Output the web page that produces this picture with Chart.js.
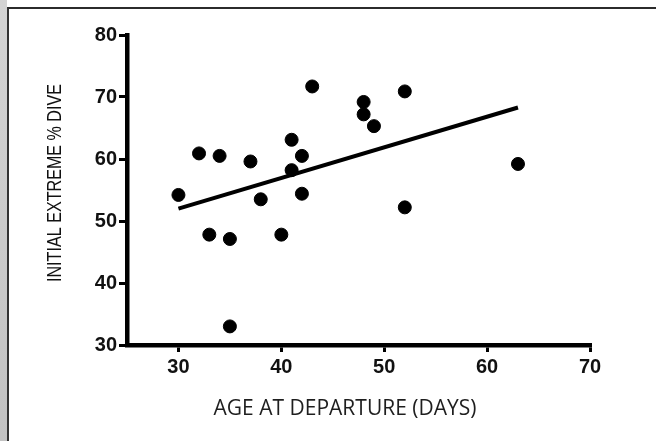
<!DOCTYPE html>
<html>
<head>
<meta charset="utf-8">
<script src="https://cdn.jsdelivr.net/npm/chart.js@4.4.1/dist/chart.umd.min.js"></script>
<style>
  html, body { margin: 0; padding: 0; background: #fff; }
  #wrap { position: relative; width: 656px; height: 441px; overflow: hidden; background: #fff; }
  #strip { position: absolute; left: 0; top: 0; width: 7px; height: 441px; background: linear-gradient(#d4d4d4, #c2c2c2); }
  #frame { position: absolute; left: 7px; top: 7px; right: -2px; height: 432px; border-left: 2px solid #333; border-top: 2px solid #2b2b2b; border-bottom: 1px solid #8a8a8a; }
  #c { position: absolute; left: 0; top: 0; }
</style>
</head>
<body>
<div id="wrap">
  <div id="strip"></div>
  <div id="frame"></div>
  <canvas id="c" width="656" height="441"></canvas>
</div>
<script>
// Observed points: age at departure (days) and initial extreme % dive
const ageDays   = [30, 32, 33, 34, 35, 35, 37, 38, 40, 41, 41, 42, 42, 43, 48, 48, 49, 52, 52, 63];
const extremeDive = [54.2, 60.9, 47.8, 60.5, 47.1, 33.0, 59.6, 53.5, 47.8, 63.1, 58.2, 60.5, 54.4, 71.7, 69.2, 67.2, 65.3, 70.9, 52.2, 59.2];
// Regression line end points
const fitAge  = [30, 63];
const fitDive = [52.0, 68.3];
// Tick labels
const xTicks = [30, 40, 50, 60, 70];
const yTicks = [30, 40, 50, 60, 70, 80];
const xTitle = 'AGE AT DEPARTURE (DAYS)';
const yTitle = 'INITIAL EXTREME % DIVE';

const points = ageDays.map((a, i) => ({ x: a, y: extremeDive[i] }));
const fit = fitAge.map((a, i) => ({ x: a, y: fitDive[i] }));

const titlePlugin = {
  id: 'axisTitles',
  afterDraw(chart) {
    const ctx = chart.ctx;
    ctx.save();
    ctx.fillStyle = '#1e1e1e';
    ctx.textAlign = 'center';
    ctx.textBaseline = 'middle';
    ctx.font = '21px "Open Sans", "Liberation Sans", sans-serif';
    ctx.fillText(xTitle, 345, 409);
    ctx.translate(55, 183);
    ctx.rotate(-Math.PI / 2);
    ctx.font = '20px "Liberation Sans Narrow", "Liberation Sans", Arial, sans-serif';
    ctx.fillStyle = '#111';
    ctx.fillText(yTitle, 0, 0, 198);
    ctx.restore();
  }
};

new Chart(document.getElementById('c'), {
  type: 'scatter',
  data: {
    datasets: [
      {
        type: 'line',
        data: fit,
        borderColor: '#000',
        borderWidth: 4,
        pointRadius: 0,
        fill: false,
        order: 1
      },
      {
        data: points,
        backgroundColor: '#000',
        borderColor: '#000',
        pointRadius: 6.5,
        pointHoverRadius: 6.5,
        order: 0
      }
    ]
  },
  options: {
    responsive: false,
    animation: false,
    events: [],
    layout: { padding: { top: 35, right: 66, bottom: 0, left: 0 } },
    plugins: { legend: { display: false }, tooltip: { enabled: false } },
    scales: {
      x: {
        type: 'linear',
        min: 25,
        max: 70,
        afterBuildTicks: (s) => { s.ticks = xTicks.map(v => ({ value: v })); },
        afterFit: (s) => { s.height = 96; },
        border: { display: true, color: '#000', width: 4.5 },
        grid: { display: true, drawOnChartArea: false, drawTicks: true, tickLength: 7, color: '#000', lineWidth: 3 },
        ticks: { color: '#111', padding: 3, maxRotation: 0, autoSkip: false,
                 font: { family: '"Liberation Sans", Arial, sans-serif', size: 20, weight: 'bold' } }
      },
      y: {
        type: 'linear',
        min: 30,
        max: 80,
        afterBuildTicks: (s) => { s.ticks = yTicks.map(v => ({ value: v })); },
        afterFit: (s) => { s.width = 127; },
        border: { display: true, color: '#000', width: 4.5 },
        grid: { display: true, drawOnChartArea: false, drawTicks: true, tickLength: 8, color: '#000', lineWidth: 3 },
        ticks: { color: '#111', padding: 2, autoSkip: false,
                 font: { family: '"Liberation Sans", Arial, sans-serif', size: 20, weight: 'bold' } }
      }
    }
  },
  plugins: [titlePlugin]
});
</script>
</body>
</html>
